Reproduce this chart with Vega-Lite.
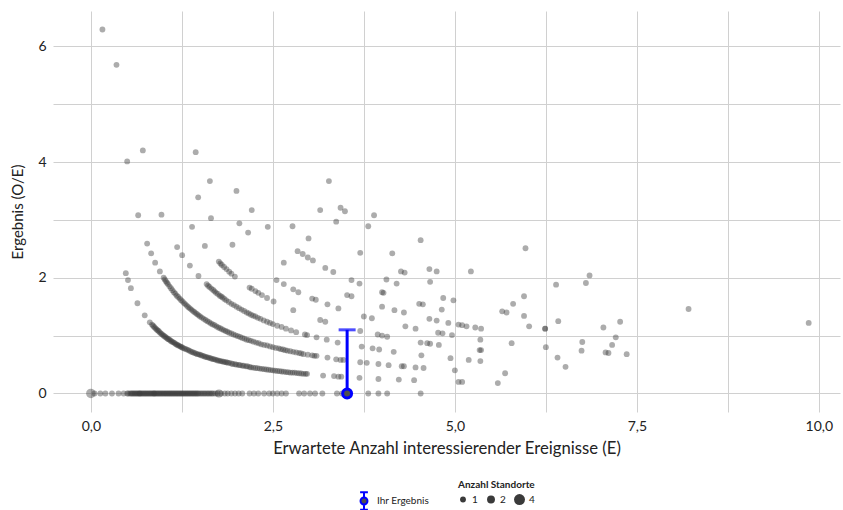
{
"$schema": "https://vega.github.io/schema/vega-lite/v6.json",
"width": 787, "height": 401,
"autosize": {"type": "none"},
"padding": {"left": 53, "top": 11, "right": 3, "bottom": 98},
"background": "white",
"config": {"view": {"stroke": null}, "font": "Lato",
 "legend": {"padding": 0, "labelFont": "Lato", "titleFont": "Lato"}},
"datasets": {
"pts": [
{"E":0,"OE":0,"n":3},{"E":0.05,"OE":0,"n":1},{"E":0.13,"OE":0,"n":1},{"E":0.2,"OE":0,"n":1},{"E":0.29,"OE":0,"n":1},{"E":0.38,"OE":0,"n":1},{"E":0.45,"OE":0,"n":1},{"E":0.5,"OE":0,"n":1},{"E":0.54,"OE":0,"n":1},{"E":0.57,"OE":0,"n":1},{"E":0.6,"OE":0,"n":1},{"E":0.63,"OE":0,"n":1},{"E":0.66,"OE":0,"n":1},{"E":0.68,"OE":0,"n":1},{"E":0.71,"OE":0,"n":1},{"E":0.74,"OE":0,"n":1},{"E":0.77,"OE":0,"n":1},{"E":0.8,"OE":0,"n":1},{"E":0.83,"OE":0,"n":1},{"E":0.86,"OE":0,"n":1},{"E":0.88,"OE":0,"n":1},{"E":0.91,"OE":0,"n":1},{"E":0.94,"OE":0,"n":1},{"E":0.97,"OE":0,"n":1},{"E":1.0,"OE":0,"n":1},{"E":1.03,"OE":0,"n":1},{"E":1.06,"OE":0,"n":1},{"E":1.09,"OE":0,"n":1},{"E":1.12,"OE":0,"n":1},{"E":1.15,"OE":0,"n":1},{"E":1.18,"OE":0,"n":1},{"E":1.21,"OE":0,"n":1},{"E":1.24,"OE":0,"n":1},{"E":1.27,"OE":0,"n":1},{"E":1.3,"OE":0,"n":1},{"E":1.33,"OE":0,"n":1},{"E":1.36,"OE":0,"n":1},{"E":1.39,"OE":0,"n":1},{"E":1.42,"OE":0,"n":1},{"E":1.45,"OE":0,"n":1},{"E":1.48,"OE":0,"n":1},{"E":1.52,"OE":0,"n":1},{"E":1.56,"OE":0,"n":1},{"E":1.6,"OE":0,"n":1},{"E":1.64,"OE":0,"n":1},{"E":1.68,"OE":0,"n":1},{"E":1.74,"OE":0,"n":1},{"E":1.79,"OE":0,"n":1},{"E":1.84,"OE":0,"n":1},{"E":1.88,"OE":0,"n":1},{"E":1.93,"OE":0,"n":1},{"E":1.98,"OE":0,"n":1},{"E":2.03,"OE":0,"n":1},{"E":2.08,"OE":0,"n":1},{"E":2.18,"OE":0,"n":1},{"E":2.24,"OE":0,"n":1},{"E":2.3,"OE":0,"n":1},{"E":2.38,"OE":0,"n":1},{"E":2.45,"OE":0,"n":1},{"E":2.5,"OE":0,"n":1},{"E":2.56,"OE":0,"n":1},{"E":2.62,"OE":0,"n":1},{"E":2.68,"OE":0,"n":1},{"E":2.86,"OE":0,"n":1},{"E":2.93,"OE":0,"n":1},{"E":3.01,"OE":0,"n":1},{"E":3.08,"OE":0,"n":1},{"E":3.18,"OE":0,"n":1},{"E":3.38,"OE":0,"n":1},{"E":3.45,"OE":0,"n":1},{"E":3.52,"OE":0,"n":2},{"E":3.81,"OE":0,"n":1},{"E":3.95,"OE":0,"n":1},{"E":4.07,"OE":0,"n":1},{"E":4.53,"OE":0,"n":1},
{"E":0.515,"OE":0,"n":1},{"E":0.555,"OE":0,"n":1},{"E":0.585,"OE":0,"n":1},{"E":0.615,"OE":0,"n":1},{"E":0.645,"OE":0,"n":1},{"E":0.67,"OE":0,"n":1},{"E":0.695,"OE":0,"n":1},{"E":0.725,"OE":0,"n":1},{"E":0.755,"OE":0,"n":1},{"E":0.785,"OE":0,"n":1},{"E":0.815,"OE":0,"n":1},{"E":0.845,"OE":0,"n":1},{"E":0.87,"OE":0,"n":1},{"E":0.895,"OE":0,"n":1},{"E":0.925,"OE":0,"n":1},{"E":0.955,"OE":0,"n":1},{"E":0.985,"OE":0,"n":1},{"E":1.015,"OE":0,"n":1},{"E":1.045,"OE":0,"n":1},{"E":1.075,"OE":0,"n":1},{"E":1.105,"OE":0,"n":1},{"E":1.135,"OE":0,"n":1},{"E":1.165,"OE":0,"n":1},{"E":1.195,"OE":0,"n":1},{"E":1.225,"OE":0,"n":1},{"E":1.255,"OE":0,"n":1},{"E":1.285,"OE":0,"n":1},{"E":1.315,"OE":0,"n":1},{"E":1.345,"OE":0,"n":1},{"E":1.375,"OE":0,"n":1},{"E":1.405,"OE":0,"n":1},{"E":1.435,"OE":0,"n":1},{"E":1.465,"OE":0,"n":1},{"E":1.5,"OE":0,"n":1},{"E":1.54,"OE":0,"n":1},{"E":1.58,"OE":0,"n":1},{"E":1.62,"OE":0,"n":1},{"E":1.66,"OE":0,"n":1},{"E":1.71,"OE":0,"n":1},{"E":1.76,"OE":0,"n":2},
{"E":0.159,"OE":6.29,"n":1},{"E":0.48,"OE":2.08,"n":1},{"E":0.51,"OE":1.96,"n":1},{"E":0.55,"OE":1.82,"n":1},{"E":0.64,"OE":1.56,"n":1},{"E":0.74,"OE":1.35,"n":1},{"E":0.81,"OE":1.23,"n":1},{"E":0.84,"OE":1.19,"n":1},{"E":0.87,"OE":1.15,"n":1},{"E":0.9,"OE":1.11,"n":1},{"E":0.93,"OE":1.08,"n":1},{"E":0.96,"OE":1.04,"n":1},{"E":0.99,"OE":1.01,"n":1},{"E":1.02,"OE":0.98,"n":1},{"E":1.05,"OE":0.95,"n":1},{"E":1.08,"OE":0.93,"n":1},{"E":1.11,"OE":0.9,"n":1},{"E":1.14,"OE":0.88,"n":1},{"E":1.17,"OE":0.85,"n":1},{"E":1.2,"OE":0.83,"n":1},{"E":1.23,"OE":0.81,"n":1},{"E":1.26,"OE":0.79,"n":1},{"E":1.3,"OE":0.77,"n":1},{"E":1.34,"OE":0.75,"n":1},{"E":1.38,"OE":0.72,"n":1},{"E":1.42,"OE":0.7,"n":1},{"E":1.46,"OE":0.68,"n":1},{"E":1.5,"OE":0.67,"n":1},{"E":1.54,"OE":0.65,"n":1},{"E":1.58,"OE":0.63,"n":1},{"E":1.62,"OE":0.62,"n":1},{"E":1.66,"OE":0.6,"n":1},{"E":1.7,"OE":0.59,"n":1},{"E":1.74,"OE":0.57,"n":1},{"E":1.78,"OE":0.56,"n":1},{"E":1.82,"OE":0.55,"n":1},{"E":1.86,"OE":0.54,"n":1},{"E":1.9,"OE":0.53,"n":1},{"E":1.95,"OE":0.51,"n":1},{"E":2.0,"OE":0.5,"n":1},{"E":2.05,"OE":0.49,"n":1},{"E":2.1,"OE":0.48,"n":1},{"E":2.15,"OE":0.47,"n":1},{"E":2.2,"OE":0.45,"n":1},{"E":2.26,"OE":0.44,"n":1},{"E":2.32,"OE":0.43,"n":1},{"E":2.38,"OE":0.42,"n":1},{"E":2.44,"OE":0.41,"n":1},{"E":2.5,"OE":0.4,"n":1},{"E":2.56,"OE":0.39,"n":1},{"E":2.62,"OE":0.38,"n":1},{"E":2.68,"OE":0.37,"n":1},{"E":2.74,"OE":0.36,"n":1},{"E":2.8,"OE":0.36,"n":1},{"E":2.86,"OE":0.35,"n":1},{"E":2.92,"OE":0.34,"n":1},{"E":2.97,"OE":0.34,"n":1},{"E":3.19,"OE":0.31,"n":1},{"E":3.34,"OE":0.3,"n":1},{"E":3.4,"OE":0.29,"n":1},{"E":3.44,"OE":0.29,"n":1},{"E":3.69,"OE":0.27,"n":1},{"E":3.95,"OE":0.25,"n":1},{"E":4.23,"OE":0.24,"n":1},{"E":4.44,"OE":0.23,"n":1},{"E":5.05,"OE":0.2,"n":1},{"E":5.1,"OE":0.2,"n":1},{"E":5.59,"OE":0.18,"n":1},
{"E":0.855,"OE":1.17,"n":1},{"E":0.885,"OE":1.13,"n":1},{"E":0.915,"OE":1.093,"n":1},{"E":0.945,"OE":1.058,"n":1},{"E":0.975,"OE":1.026,"n":1},{"E":1.005,"OE":0.995,"n":1},{"E":1.035,"OE":0.966,"n":1},{"E":1.065,"OE":0.939,"n":1},{"E":1.095,"OE":0.913,"n":1},{"E":1.125,"OE":0.889,"n":1},{"E":1.155,"OE":0.866,"n":1},{"E":1.185,"OE":0.844,"n":1},{"E":1.215,"OE":0.823,"n":1},{"E":1.245,"OE":0.803,"n":1},{"E":1.28,"OE":0.781,"n":1},{"E":1.32,"OE":0.758,"n":1},{"E":1.36,"OE":0.735,"n":1},{"E":1.4,"OE":0.714,"n":1},{"E":1.44,"OE":0.694,"n":1},{"E":1.48,"OE":0.676,"n":1},{"E":1.52,"OE":0.658,"n":1},{"E":1.56,"OE":0.641,"n":1},{"E":1.6,"OE":0.625,"n":1},{"E":1.64,"OE":0.61,"n":1},{"E":1.68,"OE":0.595,"n":1},{"E":1.72,"OE":0.581,"n":1},{"E":1.76,"OE":0.568,"n":1},{"E":1.8,"OE":0.556,"n":1},{"E":1.84,"OE":0.543,"n":1},{"E":1.88,"OE":0.532,"n":1},{"E":1.93,"OE":0.518,"n":1},{"E":1.98,"OE":0.505,"n":1},{"E":2.03,"OE":0.493,"n":1},{"E":2.08,"OE":0.481,"n":1},{"E":2.13,"OE":0.469,"n":1},{"E":2.18,"OE":0.459,"n":1},{"E":2.23,"OE":0.448,"n":1},{"E":2.29,"OE":0.437,"n":1},{"E":2.35,"OE":0.426,"n":1},{"E":2.41,"OE":0.415,"n":1},{"E":2.47,"OE":0.405,"n":1},{"E":2.53,"OE":0.395,"n":1},{"E":2.59,"OE":0.386,"n":1},{"E":2.65,"OE":0.377,"n":1},{"E":2.71,"OE":0.369,"n":1},{"E":2.77,"OE":0.361,"n":1},{"E":2.83,"OE":0.353,"n":1},{"E":2.89,"OE":0.346,"n":1},{"E":2.95,"OE":0.339,"n":1},
{"E":0.352,"OE":5.68,"n":1},{"E":0.499,"OE":4.01,"n":1},{"E":0.65,"OE":3.08,"n":1},{"E":0.773,"OE":2.59,"n":1},{"E":0.828,"OE":2.42,"n":1},{"E":0.883,"OE":2.26,"n":1},{"E":0.948,"OE":2.11,"n":1},{"E":1.0,"OE":2.0,"n":1},{"E":1.03,"OE":1.94,"n":1},{"E":1.06,"OE":1.89,"n":1},{"E":1.1,"OE":1.82,"n":1},{"E":1.14,"OE":1.75,"n":1},{"E":1.18,"OE":1.69,"n":1},{"E":1.22,"OE":1.64,"n":1},{"E":1.26,"OE":1.59,"n":1},{"E":1.3,"OE":1.54,"n":1},{"E":1.34,"OE":1.49,"n":1},{"E":1.38,"OE":1.45,"n":1},{"E":1.42,"OE":1.41,"n":1},{"E":1.46,"OE":1.37,"n":1},{"E":1.5,"OE":1.33,"n":1},{"E":1.55,"OE":1.29,"n":1},{"E":1.6,"OE":1.25,"n":1},{"E":1.65,"OE":1.21,"n":1},{"E":1.7,"OE":1.18,"n":1},{"E":1.75,"OE":1.14,"n":1},{"E":1.8,"OE":1.11,"n":1},{"E":1.85,"OE":1.08,"n":1},{"E":1.9,"OE":1.05,"n":1},{"E":1.96,"OE":1.02,"n":1},{"E":2.02,"OE":0.99,"n":1},{"E":2.08,"OE":0.96,"n":1},{"E":2.14,"OE":0.93,"n":1},{"E":2.2,"OE":0.91,"n":1},{"E":2.27,"OE":0.88,"n":1},{"E":2.34,"OE":0.85,"n":1},{"E":2.42,"OE":0.83,"n":1},{"E":2.5,"OE":0.8,"n":1},{"E":2.58,"OE":0.78,"n":1},{"E":2.64,"OE":0.76,"n":1},{"E":2.7,"OE":0.74,"n":1},{"E":2.78,"OE":0.72,"n":1},{"E":2.86,"OE":0.7,"n":1},{"E":2.92,"OE":0.68,"n":1},{"E":3.04,"OE":0.66,"n":1},{"E":3.1,"OE":0.65,"n":1},{"E":3.25,"OE":0.62,"n":1},{"E":3.37,"OE":0.59,"n":1},{"E":3.43,"OE":0.58,"n":1},{"E":3.47,"OE":0.58,"n":1},{"E":3.7,"OE":0.54,"n":1},{"E":3.79,"OE":0.53,"n":1},{"E":3.95,"OE":0.51,"n":1},{"E":4.09,"OE":0.49,"n":1},{"E":4.27,"OE":0.47,"n":1},{"E":4.3,"OE":0.47,"n":1},{"E":4.46,"OE":0.45,"n":1},{"E":4.57,"OE":0.44,"n":1},{"E":5.0,"OE":0.4,"n":1},{"E":5.69,"OE":0.35,"n":1},
{"E":1.015,"OE":1.97,"n":1},{"E":1.045,"OE":1.914,"n":1},{"E":1.08,"OE":1.852,"n":1},{"E":1.12,"OE":1.786,"n":1},{"E":1.16,"OE":1.724,"n":1},{"E":1.2,"OE":1.667,"n":1},{"E":1.24,"OE":1.613,"n":1},{"E":1.28,"OE":1.563,"n":1},{"E":1.32,"OE":1.515,"n":1},{"E":1.36,"OE":1.471,"n":1},{"E":1.4,"OE":1.429,"n":1},{"E":1.44,"OE":1.389,"n":1},{"E":1.48,"OE":1.351,"n":1},{"E":1.525,"OE":1.311,"n":1},{"E":1.575,"OE":1.27,"n":1},{"E":1.625,"OE":1.231,"n":1},{"E":1.675,"OE":1.194,"n":1},{"E":1.725,"OE":1.159,"n":1},{"E":1.775,"OE":1.127,"n":1},{"E":1.825,"OE":1.096,"n":1},{"E":1.875,"OE":1.067,"n":1},{"E":1.93,"OE":1.036,"n":1},{"E":1.99,"OE":1.005,"n":1},{"E":2.05,"OE":0.976,"n":1},{"E":2.11,"OE":0.948,"n":1},{"E":2.17,"OE":0.922,"n":1},{"E":2.235,"OE":0.895,"n":1},{"E":2.305,"OE":0.868,"n":1},{"E":2.38,"OE":0.84,"n":1},{"E":2.46,"OE":0.813,"n":1},{"E":2.54,"OE":0.787,"n":1},{"E":2.61,"OE":0.766,"n":1},{"E":2.67,"OE":0.749,"n":1},{"E":2.74,"OE":0.73,"n":1},{"E":2.82,"OE":0.709,"n":1},{"E":2.89,"OE":0.692,"n":1},{"E":2.98,"OE":0.671,"n":1},{"E":3.07,"OE":0.651,"n":1},
{"E":0.714,"OE":4.2,"n":1},{"E":0.97,"OE":3.09,"n":1},{"E":1.185,"OE":2.53,"n":1},{"E":1.254,"OE":2.39,"n":1},{"E":1.36,"OE":2.21,"n":1},{"E":1.478,"OE":2.03,"n":1},{"E":1.59,"OE":1.89,"n":1},{"E":1.63,"OE":1.84,"n":1},{"E":1.68,"OE":1.79,"n":1},{"E":1.72,"OE":1.74,"n":1},{"E":1.77,"OE":1.69,"n":1},{"E":1.81,"OE":1.66,"n":1},{"E":1.86,"OE":1.61,"n":1},{"E":1.93,"OE":1.55,"n":1},{"E":2.0,"OE":1.5,"n":1},{"E":2.07,"OE":1.45,"n":1},{"E":2.14,"OE":1.4,"n":1},{"E":2.2,"OE":1.36,"n":1},{"E":2.26,"OE":1.33,"n":1},{"E":2.33,"OE":1.29,"n":1},{"E":2.42,"OE":1.24,"n":1},{"E":2.5,"OE":1.2,"n":1},{"E":2.56,"OE":1.17,"n":1},{"E":2.62,"OE":1.15,"n":1},{"E":2.68,"OE":1.12,"n":1},{"E":2.75,"OE":1.09,"n":1},{"E":2.82,"OE":1.06,"n":1},{"E":2.94,"OE":1.02,"n":1},{"E":2.97,"OE":1.01,"n":1},{"E":3.1,"OE":0.97,"n":1},{"E":3.24,"OE":0.93,"n":1},{"E":3.39,"OE":0.88,"n":1},{"E":3.72,"OE":0.81,"n":1},{"E":3.87,"OE":0.78,"n":1},{"E":3.96,"OE":0.76,"n":1},{"E":4.16,"OE":0.72,"n":1},{"E":4.54,"OE":0.66,"n":1},{"E":4.94,"OE":0.61,"n":1},{"E":5.19,"OE":0.58,"n":1},{"E":5.35,"OE":0.56,"n":1},{"E":6.52,"OE":0.46,"n":1},
{"E":1.61,"OE":1.863,"n":1},{"E":1.655,"OE":1.813,"n":1},{"E":1.7,"OE":1.765,"n":1},{"E":1.745,"OE":1.719,"n":1},{"E":1.79,"OE":1.676,"n":1},{"E":1.835,"OE":1.635,"n":1},{"E":1.895,"OE":1.583,"n":1},{"E":1.965,"OE":1.527,"n":1},{"E":2.035,"OE":1.474,"n":1},{"E":2.105,"OE":1.425,"n":1},{"E":2.17,"OE":1.382,"n":1},{"E":2.23,"OE":1.345,"n":1},{"E":2.295,"OE":1.307,"n":1},{"E":2.375,"OE":1.263,"n":1},{"E":2.46,"OE":1.22,"n":1},
{"E":1.39,"OE":2.88,"n":1},{"E":1.566,"OE":2.55,"n":1},{"E":1.758,"OE":2.28,"n":1},{"E":1.78,"OE":2.247,"n":1},{"E":1.8,"OE":2.22,"n":1},{"E":1.83,"OE":2.186,"n":1},{"E":1.863,"OE":2.15,"n":1},{"E":1.9,"OE":2.105,"n":1},{"E":1.93,"OE":2.07,"n":1},{"E":1.978,"OE":2.02,"n":1},{"E":2.18,"OE":1.83,"n":1},{"E":2.21,"OE":1.81,"n":1},{"E":2.26,"OE":1.77,"n":1},{"E":2.3,"OE":1.74,"n":1},{"E":2.35,"OE":1.7,"n":1},{"E":2.42,"OE":1.65,"n":1},{"E":2.51,"OE":1.59,"n":1},{"E":2.78,"OE":1.44,"n":1},{"E":3.15,"OE":1.27,"n":1},{"E":3.22,"OE":1.24,"n":1},{"E":3.7,"OE":1.08,"n":1},{"E":3.94,"OE":1.02,"n":1},{"E":4.0,"OE":1.0,"n":1},{"E":4.07,"OE":0.98,"n":1},{"E":4.53,"OE":0.88,"n":1},{"E":4.62,"OE":0.87,"n":1},{"E":4.66,"OE":0.86,"n":1},{"E":4.78,"OE":0.84,"n":1},{"E":5.34,"OE":0.75,"n":1},{"E":5.36,"OE":0.75,"n":1},{"E":6.41,"OE":0.62,"n":1},
{"E":1.474,"OE":3.39,"n":1},{"E":1.65,"OE":3.03,"n":1},{"E":1.945,"OE":2.57,"n":1},{"E":2.55,"OE":1.96,"n":1},{"E":2.65,"OE":1.89,"n":1},{"E":2.78,"OE":1.8,"n":1},{"E":2.85,"OE":1.75,"n":1},{"E":3.04,"OE":1.64,"n":1},{"E":3.09,"OE":1.62,"n":1},{"E":3.25,"OE":1.54,"n":1},{"E":3.4,"OE":1.47,"n":1},{"E":3.75,"OE":1.33,"n":1},{"E":3.86,"OE":1.3,"n":1},{"E":4.32,"OE":1.16,"n":1},{"E":4.46,"OE":1.12,"n":1},{"E":4.77,"OE":1.05,"n":1},{"E":4.83,"OE":1.04,"n":1},{"E":4.96,"OE":1.01,"n":1},{"E":5.35,"OE":0.93,"n":1},{"E":5.78,"OE":0.87,"n":1},{"E":6.25,"OE":0.8,"n":1},{"E":6.74,"OE":0.74,"n":1},{"E":7.07,"OE":0.71,"n":1},{"E":7.11,"OE":0.7,"n":1},{"E":7.36,"OE":0.68,"n":1},
{"E":1.44,"OE":4.17,"n":1},{"E":1.635,"OE":3.67,"n":1},{"E":2.04,"OE":2.94,"n":1},{"E":2.16,"OE":2.78,"n":1},{"E":2.65,"OE":2.26,"n":1},{"E":3.52,"OE":1.7,"n":1},{"E":3.58,"OE":1.68,"n":1},{"E":4.0,"OE":1.5,"n":1},{"E":4.17,"OE":1.44,"n":1},{"E":4.3,"OE":1.4,"n":1},{"E":4.65,"OE":1.29,"n":1},{"E":4.75,"OE":1.26,"n":1},{"E":4.91,"OE":1.22,"n":1},{"E":5.05,"OE":1.19,"n":1},{"E":5.1,"OE":1.18,"n":1},{"E":5.16,"OE":1.16,"n":1},{"E":5.28,"OE":1.14,"n":1},{"E":5.36,"OE":1.12,"n":1},{"E":6.75,"OE":0.89,"n":1},{"E":7.16,"OE":0.84,"n":1},
{"E":2.0,"OE":3.5,"n":1},{"E":2.21,"OE":3.17,"n":1},{"E":2.43,"OE":2.88,"n":1},{"E":2.84,"OE":2.46,"n":1},{"E":2.91,"OE":2.41,"n":1},{"E":2.98,"OE":2.35,"n":1},{"E":3.05,"OE":2.3,"n":1},{"E":3.22,"OE":2.17,"n":1},{"E":3.33,"OE":2.1,"n":1},{"E":3.58,"OE":1.96,"n":1},{"E":3.69,"OE":1.9,"n":1},{"E":4.0,"OE":1.75,"n":1},{"E":4.02,"OE":1.74,"n":1},{"E":4.51,"OE":1.55,"n":1},{"E":4.56,"OE":1.54,"n":1},{"E":4.82,"OE":1.45,"n":1},{"E":6.02,"OE":1.16,"n":1},{"E":6.24,"OE":1.12,"n":1},{"E":6.24,"OE":1.12,"n":1},{"E":7.21,"OE":0.97,"n":1},
{"E":2.77,"OE":2.89,"n":1},{"E":2.99,"OE":2.68,"n":1},{"E":4.06,"OE":1.97,"n":1},{"E":4.2,"OE":1.9,"n":1},{"E":4.84,"OE":1.65,"n":1},{"E":4.98,"OE":1.61,"n":1},{"E":5.65,"OE":1.42,"n":1},{"E":5.71,"OE":1.4,"n":1},{"E":5.95,"OE":1.34,"n":1},{"E":6.42,"OE":1.25,"n":1},{"E":7.04,"OE":1.14,"n":1},
{"E":3.7,"OE":2.43,"n":1},{"E":4.26,"OE":2.11,"n":1},{"E":4.31,"OE":2.09,"n":1},{"E":4.66,"OE":1.93,"n":1},{"E":5.8,"OE":1.55,"n":1},{"E":7.27,"OE":1.24,"n":1},
{"E":3.15,"OE":3.17,"n":1},{"E":3.37,"OE":2.97,"n":1},{"E":4.14,"OE":2.42,"n":1},{"E":4.65,"OE":2.15,"n":1},{"E":4.75,"OE":2.11,"n":1},{"E":5.95,"OE":1.68,"n":1},
{"E":3.43,"OE":3.21,"n":1},{"E":3.49,"OE":3.15,"n":1},{"E":3.81,"OE":2.89,"n":1},{"E":5.22,"OE":2.11,"n":1},
{"E":3.27,"OE":3.67,"n":1},{"E":3.89,"OE":3.08,"n":1},{"E":4.53,"OE":2.65,"n":1},{"E":6.39,"OE":1.88,"n":1},{"E":8.21,"OE":1.46,"n":1},{"E":9.86,"OE":1.22,"n":1},
{"E":6.8,"OE":1.91,"n":1},{"E":6.85,"OE":2.04,"n":1},{"E":5.97,"OE":2.51,"n":1}
],
"own": [{"E":3.52,"OE":0,"lo":0,"hi":1.1,"lab":"Ihr Ergebnis"}]
},
"encoding": {
 "x": {"field": "E", "type": "quantitative",
  "scale": {"domain": [-0.52, 10.29], "nice": false, "zero": false},
  "axis": {"title": "Erwartete Anzahl interessierender Ereignisse (E)",
   "values": [0, 1.25, 2.5, 3.75, 5, 6.25, 7.5, 8.75, 10],
   "labelExpr": "datum.value % 2.5 == 0 ? replace(format(datum.value, '.1f'), '.', ',') : ''",
   "ticks": false, "domain": false, "grid": true, "gridColor": "#d0d0d0", "gridWidth": 1,
   "labelOverlap": false, "labelFlush": false,
   "labelFontSize": 14, "labelPadding": 7, "labelColor": "#222",
   "titleFontSize": 16.7, "titleFontWeight": "normal", "titleColor": "#222", "titlePadding": 7}}
},
"layer": [
 {"data": {"name": "pts"},
  "mark": {"type": "circle", "color": "#3a3a3a", "opacity": 0.42},
  "encoding": {
   "y": {"field": "OE", "type": "quantitative",
    "scale": {"domain": [-0.32, 6.61], "nice": false, "zero": false},
    "axis": {"title": "Ergebnis (O/E)", "values": [0, 1, 2, 3, 4, 5, 6],
     "labelExpr": "datum.value % 2 == 0 ? format(datum.value, 'd') : ''",
     "ticks": false, "domain": false, "grid": true, "gridColor": "#d0d0d0", "gridWidth": 1,
     "labelOverlap": false, "labelFlush": false,
     "labelFontSize": 14, "labelPadding": 7, "labelColor": "#222",
     "titleFontSize": 15, "titleFontWeight": "normal", "titleColor": "#222", "titlePadding": 12}},
   "size": {"field": "n", "type": "quantitative",
    "scale": {"domain": [1, 4], "range": [34, 120], "zero": false},
    "legend": {"title": "Anzahl Standorte", "orient": "none", "direction": "horizontal",
     "legendX": 405, "legendY": 469, "values": [1, 2, 4], "format": "d",
     "symbolFillColor": "black", "symbolOpacity": 1, "symbolStrokeWidth": 0,
     "titleFontSize": 10, "titleFontWeight": "bold", "titleColor": "#222", "titlePadding": 4,
     "labelFontSize": 10, "labelColor": "#222", "labelOffset": 4, "columnPadding": 8}}
  }},
 {"data": {"name": "own"},
  "mark": {"type": "rule", "color": "blue", "strokeWidth": 3},
  "encoding": {"y": {"field": "lo", "type": "quantitative"}, "y2": {"field": "hi"}}},
 {"data": {"name": "own"},
  "mark": {"type": "tick", "orient": "horizontal", "color": "blue", "size": 17, "thickness": 3},
  "encoding": {"y": {"field": "hi", "type": "quantitative"}}},
 {"data": {"name": "own"},
  "mark": {"type": "point", "filled": true, "fill": "#505050", "strokeWidth": 3, "size": 80, "opacity": 1},
  "encoding": {"y": {"field": "OE", "type": "quantitative"},
   "stroke": {"field": "lab", "type": "nominal", "scale": {"range": ["blue"]},
    "legend": {"title": null, "orient": "none", "legendX": 301, "legendY": 480,
     "symbolType": "M-0.45,-1H0.45M0,-1V-0.4M0,0.4V1M-0.45,1H0.45M0.4,0A0.4,0.4 0 1,1 -0.4,0A0.4,0.4 0 1,1 0.4,0Z",
     "symbolSize": 300, "symbolStrokeWidth": 2, "symbolFillColor": "#505050",
     "labelFontSize": 10, "labelColor": "#222", "labelOffset": 3}}}}
]
}
